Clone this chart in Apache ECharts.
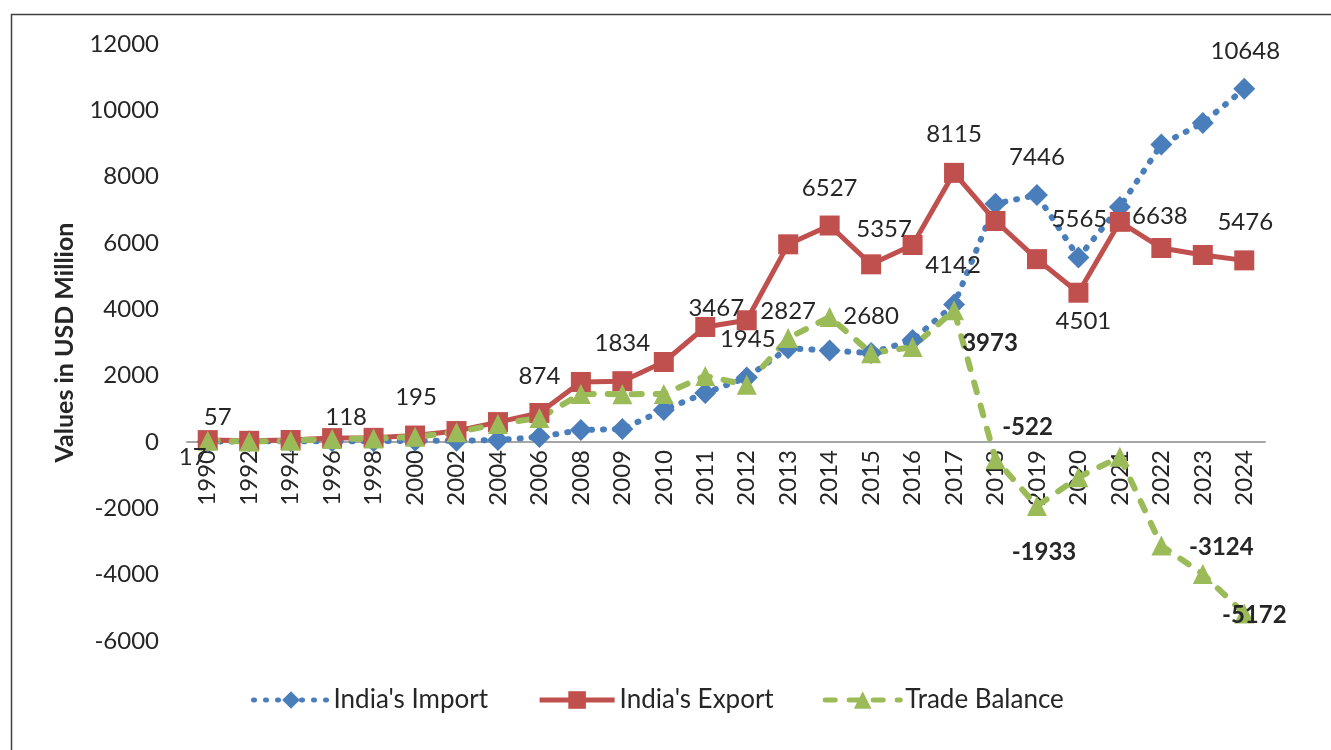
<!DOCTYPE html>
<html>
<head>
<meta charset="utf-8">
<script src="https://cdn.jsdelivr.net/npm/echarts@6/dist/echarts.min.js"></script>
<style>
html,body{margin:0;padding:0;background:#fff;}
#chart{width:1331px;height:750px;}
</style>
</head>
<body>
<div id="chart"></div>
<script>
// ---- data ----
var years = ['1990','1992','1994','1996','1998','2000','2002','2004','2006','2008','2009','2010','2011','2012','2013','2014','2015','2016','2017','2018','2019','2020','2021','2022','2023','2024'];
var indiaImport = [17, 20, 20, 25, 20, 40, 35, 60, 150, 362, 392, 965, 1477, 1945, 2827, 2760, 2680, 3075, 4142, 7185, 7446, 5565, 7085, 8973, 9618, 10648];
var indiaExport = [57, 35, 60, 118, 125, 195, 330, 600, 874, 1810, 1834, 2412, 3467, 3670, 5960, 6527, 5357, 5940, 8115, 6663, 5513, 4501, 6638, 5849, 5638, 5476];
var tradeBalance = [40, 15, 40, 93, 105, 155, 295, 540, 724, 1448, 1442, 1447, 1990, 1725, 3133, 3767, 2677, 2865, 3973, -522, -1933, -1064, -447, -3124, -3980, -5172];
var yTicks = {min: -6000, max: 12000, interval: 2000};

// ---- label placement (style only) ----
var importLabelOffsets = {'1990':[-15,16],'2012':[1,-38],'2013':[0,-37],'2015':[0,-37],'2017':[-1,-39],'2019':[0,-38],'2020':[1,-38],'2024':[1,-38]};
var exportLabelOffsets = {'1990':[10,-23],'1996':[14,-21],'2000':[1,-38],'2006':[0,-37],'2009':[0,-38],'2011':[11,-19],'2014':[0,-37],'2015':[13,-35],'2017':[0,-39],'2020':[5,29],'2021':[40,-6],'2024':[1,-38]};
var balanceLabelOffsets = {'2017':[36,33],'2018':[32,-32],'2019':[7,46],'2022':[60,2],'2024':[10,2]};

var FONT = 'Lato';
var GRID = {left: 187, right: 66, top: 44, bottom: 109};
var plotH = 750 - GRID.top - GRID.bottom;
// distance from bottom of plot to the zero line, derived from the axis range
var zeroShift = plotH * (0 - yTicks.min) / (yTicks.max - yTicks.min);

function buildData(values, offsets, bold) {
  return values.map(function (v, i) {
    var off = offsets[years[i]];
    if (!off) return {value: v};
    return {
      value: v,
      label: {
        show: true, position: 'inside', offset: off,
        fontFamily: FONT, fontSize: 24, color: '#262626',
        fontWeight: bold ? 'bold' : 'normal'
      }
    };
  });
}

var chart = echarts.init(document.getElementById('chart'), null, {renderer: 'canvas'});
var option = {
  animation: false,
  backgroundColor: '#ffffff',
  graphic: [{
    type: 'rect', left: 9, top: 12, silent: true,
    shape: {width: 1400, height: 800},
    style: {fill: 'none', stroke: '#404040', lineWidth: 1.5}
  }],
  grid: GRID,
  legend: {
    top: 682, left: 246,
    itemWidth: 75, itemHeight: 22, itemGap: 49,
    lineStyle: {width: 5},
    textStyle: {fontFamily: FONT, fontSize: 26, color: '#262626', padding: [0, 0, 0, 0]},
    data: ["India's Import", "India's Export", 'Trade Balance']
  },
  xAxis: {
    type: 'category', data: years, boundaryGap: true, position: 'bottom',
    offset: -zeroShift,
    axisLine: {onZero: false, lineStyle: {color: '#A6A6A6', width: 2}},
    axisTick: {show: false},
    axisLabel: {rotate: 90, margin: 8, interval: 0, fontFamily: FONT, fontSize: 24, color: '#262626'},
    splitLine: {show: false}
  },
  yAxis: {
    type: 'value', min: yTicks.min, max: yTicks.max, interval: yTicks.interval,
    name: 'Values in USD Million', nameLocation: 'middle', nameGap: 110, nameRotate: 90,
    nameTextStyle: {fontFamily: FONT, fontSize: 25, fontWeight: 'bold', color: '#262626'},
    axisLine: {show: false}, axisTick: {show: false}, splitLine: {show: false},
    axisLabel: {margin: 28, fontFamily: FONT, fontSize: 24, color: '#262626',
      formatter: function (v) { return String(v); }}
  },
  series: [
    {
      name: "India's Import", type: 'line', data: buildData(indiaImport, importLabelOffsets, false),
      symbol: 'diamond', symbolSize: 22, showAllSymbol: true,
      itemStyle: {color: '#4A7EBB'},
      lineStyle: {color: '#4A7EBB', width: 6, type: [1, 11], cap: 'round'},
      label: {show: false}
    },
    {
      name: "India's Export", type: 'line', data: buildData(indiaExport, exportLabelOffsets, false),
      symbol: 'rect', symbolSize: 20, showAllSymbol: true,
      itemStyle: {color: '#C0504D'},
      lineStyle: {color: '#C0504D', width: 5, type: 'solid'},
      label: {show: false}
    },
    {
      name: 'Trade Balance', type: 'line', data: buildData(tradeBalance, balanceLabelOffsets, true),
      symbol: 'triangle', symbolSize: [20, 20], showAllSymbol: true,
      itemStyle: {color: '#9BBB59'},
      lineStyle: {color: '#9BBB59', width: 6, type: [10, 14], cap: 'round'},
      label: {show: false}
    }
  ]
};
chart.setOption(option);
</script>
</body>
</html>
